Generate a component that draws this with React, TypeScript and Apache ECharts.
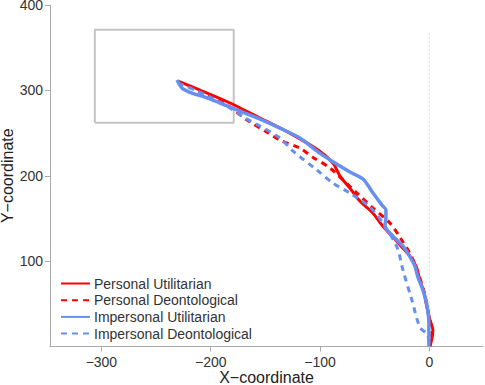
import React, { useEffect, useRef } from "react";
import * as echarts from "echarts";

const seriesNames = [
  "Personal Utilitarian",
  "Personal Deontological",
  "Impersonal Utilitarian",
  "Impersonal Deontological",
];

const personalUtilitarian: [number, number][] = [
  [-229.9, 310.9], [-209.8, 300.4], [-182.4, 285.2], [-154.9, 267.6], [-127.7, 249.9],
  [-100.3, 228.8], [-88.2, 214.8], [-81.8, 199.6], [-72.7, 185.5], [-63.6, 170.3],
  [-51.6, 156.2], [-43.4, 142.2], [-34.3, 129.3], [-25.1, 116.4], [-17.8, 105.8],
  [-12.3, 94.1], [-8.7, 77.7], [-5.0, 63.6], [-2.3, 46.1], [0.5, 30.8],
  [3.2, 19.1], [2.3, 9.7], [0.5, 0.4],
];

const personalDeontological: [number, number][] = [
  [-229.9, 309.7], [-207.0, 296.9], [-185.1, 282.8], [-166.8, 265.2], [-148.5, 251.1],
  [-136.6, 241.7], [-118.5, 232.3], [-106.7, 221.8], [-90.9, 208.9], [-66.3, 179.7],
  [-52.6, 163.3], [-36.1, 144.5], [-27.0, 128.1], [-16.0, 104.6], [-8.7, 80.0],
  [-4.1, 60.1], [-1.4, 42.5], [2.3, 15.6], [0.5, 0.4],
];

const impersonalUtilitarian: [number, number][] = [
  [-230.8, 312.1], [-226.2, 302.7], [-217.1, 296.9], [-205.2, 292.2], [-191.5, 285.2],
  [-173.2, 275.8], [-154.9, 266.4], [-136.6, 255.8], [-118.5, 244.1], [-100.3, 226.5],
  [-81.8, 211.3], [-72.7, 204.3], [-60.8, 196.1], [-51.6, 179.7], [-43.4, 165.6],
  [-39.8, 159.8], [-39.8, 150.4], [-40.7, 141.0], [-33.4, 129.3], [-24.2, 117.5],
  [-18.1, 105.8], [-13.3, 94.1], [-10.5, 81.2], [-5.9, 66.0], [-2.3, 48.4],
  [-0.5, 27.3], [-0.5, 9.7], [-0.5, 0.4],
];

const impersonalDeontological: [number, number][] = [
  [-229.9, 308.6], [-214.3, 300.4], [-200.6, 292.2], [-185.1, 281.6], [-168.6, 267.6],
  [-154.9, 258.2], [-136.6, 244.1], [-124.7, 228.8], [-102.8, 206.6], [-88.2, 191.4],
  [-72.7, 179.7], [-54.4, 163.3], [-42.5, 144.5], [-29.7, 116.4], [-24.2, 89.4],
  [-16.0, 54.3], [-8.7, 22.6], [-1.4, 13.2], [-0.5, 0.4],
];

const boxCorners: [number, number][] = [
  [-306, 262], [-179, 262], [-179, 371], [-306, 371], [-306, 262],
];

const zeroLine: [number, number][] = [[0, 0], [0, 370]];

const xTicks = [-300, -200, -100, 0];
const yTicks = [100, 200, 300, 400];

const RED = "#ff0000";
const BLUE = "#6690f0";
const FONT = "Liberation Sans, Arial, sans-serif";

export default function App() {
  const ref = useRef<HTMLDivElement>(null);
  useEffect(() => {
    if (!ref.current) return;
    const chart = echarts.init(ref.current, undefined, { renderer: "svg" });
    const mk = (name: string, data: [number, number][], color: string, dashed: boolean, w: number) => ({
      name,
      type: "line",
      data,
      symbol: "none",
      smooth: 0.3,
      clip: false,
      lineStyle: { color, width: w, type: dashed ? [6, 5] : "solid", cap: "butt" },
      itemStyle: { color },
      z: 3,
    });
    chart.setOption({
      animation: false,
      textStyle: { fontFamily: FONT },
      grid: { left: 50, top: 5, width: 433, height: 341.5, containLabel: false, outerBoundsMode: "none" },
      xAxis: {
        type: "value",
        min: -347,
        max: 49,
        name: "X\u2212coordinate",
        nameLocation: "middle",
        nameGap: 23,
        nameMoveOverlap: false,
        nameTextStyle: { fontSize: 16, color: "#222", fontFamily: FONT },
        axisLine: { show: true, onZero: false, lineStyle: { color: "#aaaaaa", width: 1 } },
        axisTick: { show: true, length: 5, customValues: xTicks, lineStyle: { color: "#aaaaaa" } },
        axisLabel: {
          customValues: xTicks,
          fontSize: 14,
          color: "#333",
          margin: 8,
          fontFamily: FONT,
          formatter: (v: number) => String(v).replace("-", "\u2212"),
        },
        splitLine: { show: false },
      },
      yAxis: {
        type: "value",
        min: 0,
        max: 400,
        name: "Y\u2212coordinate",
        nameLocation: "middle",
        nameGap: 35,
        nameMoveOverlap: false,
        nameTextStyle: { fontSize: 16, color: "#222", fontFamily: FONT },
        axisLine: { show: true, onZero: false, lineStyle: { color: "#aaaaaa", width: 1 } },
        axisTick: { show: true, length: 5, customValues: yTicks, lineStyle: { color: "#aaaaaa" } },
        axisLabel: { customValues: yTicks, fontSize: 14, color: "#333", margin: 7, fontFamily: FONT },
        splitLine: { show: false },
      },
      legend: {
        data: seriesNames,
        orient: "vertical",
        left: 60,
        top: 276.5,
        padding: 0,
        itemWidth: 29,
        itemHeight: 14,
        itemGap: 2.7,
        itemStyle: { opacity: 0 },
        textStyle: { fontSize: 14, color: "#333", fontFamily: FONT, padding: [0, 0, 0, -1] },
      },
      series: [
        {
          name: "box",
          type: "line",
          data: boxCorners,
          symbol: "none",
          lineStyle: { color: "#c4c4c4", width: 2 },
          z: 1,
          silent: true,
        },
        {
          name: "zero",
          type: "line",
          data: zeroLine,
          symbol: "none",
          lineStyle: { color: "#cccccc", width: 1, type: [1, 3] },
          z: 1,
          silent: true,
        },
        mk(seriesNames[0], personalUtilitarian, RED, false, 3),
        mk(seriesNames[1], personalDeontological, RED, true, 3),
        mk(seriesNames[2], impersonalUtilitarian, BLUE, false, 3.5),
        mk(seriesNames[3], impersonalDeontological, BLUE, true, 3),
      ],
    });
    return () => chart.dispose();
  }, []);
  return <div ref={ref} style={{ width: 485, height: 385, position: "absolute", left: 0, top: 0 }} />;
}
